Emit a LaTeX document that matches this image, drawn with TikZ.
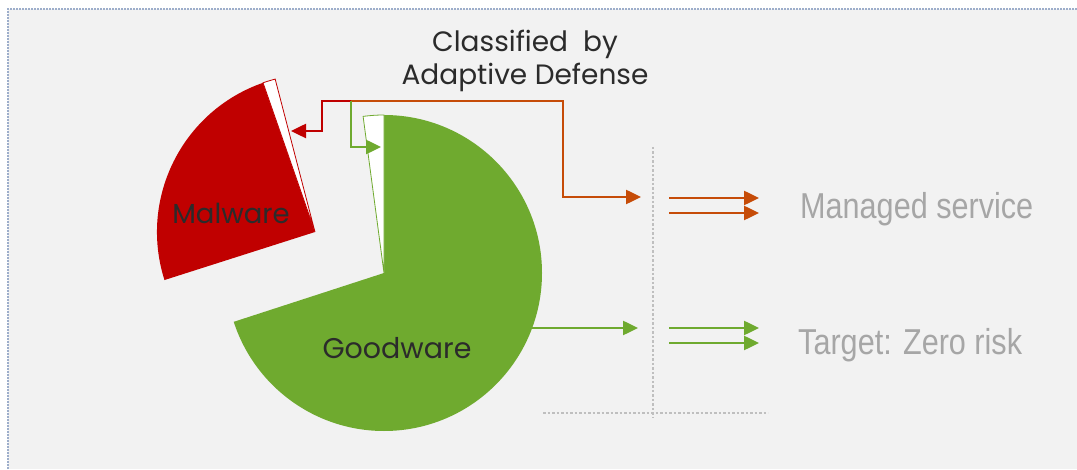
\documentclass[tikz,border=0pt]{standalone}
\usepackage{fontspec}
\setmainfont{Poppins}
\newfontfamily\narrowfont[FakeStretch=0.85]{Liberation Sans}
\usetikzlibrary{arrows.meta}
\definecolor{bg}{HTML}{F2F2F2}
\definecolor{frame}{HTML}{9DAECB}
\definecolor{grn}{HTML}{6FAA2F}
\definecolor{mal}{HTML}{C00000}
\definecolor{org}{HTML}{C64C08}
\definecolor{lgray}{HTML}{A6A6A6}
\definecolor{dgray}{HTML}{BFBFBF}
\definecolor{ink}{HTML}{2B2B2B}
\tikzset{
  conn/.style={line width=2.5pt, -{Triangle[length=15pt,width=14pt]}},
  sep/.style={dgray, line width=2.5pt, dash pattern=on 2.5pt off 2pt},
  outfont/.style={font=\narrowfont\fontsize{36}{40}\selectfont, text=lgray, inner sep=0pt},
}
\begin{document}
\begin{tikzpicture}[x=1pt,y=1pt]
\useasboundingbox (0,0) rectangle (1077,469);
\fill[white] (0,0) rectangle (1077,469);
\fill[bg] (8,0) rectangle (1077,460);
\draw[frame, line width=1.5pt, dash pattern=on 2pt off 1pt] (8,0) -- (8,460) -- (1077,460);

% pie
\coordinate (g) at (384,196);
\coordinate (r) at (315,237);
\fill[grn] (g) -- ++(90:158) arc[start angle=90, end angle=-162, radius=158] -- cycle;
\filldraw[fill=white, draw=grn, line width=0.8pt] (g) -- ++(90:158) arc[start angle=90, end angle=97.6, radius=158] -- cycle;
\fill[mal] (r) -- ++(109.2:158) arc[start angle=109.2, end angle=197.7, radius=158] -- cycle;
\filldraw[fill=white, draw=mal, line width=0.8pt] (r) -- ++(104.6:158) arc[start angle=104.6, end angle=109.2, radius=158] -- cycle;

\node[font=\fontsize{27.5}{30}\selectfont, text=ink] (malware) at (231,256) {Malware};
\node[font=\fontsize{28.5}{30}\selectfont, text=ink] (goodware) at (397,121) {Goodware};

% title
\node[font=\fontsize{28}{33}\selectfont, text=ink, align=center] (title) at (525,408) {Classified\ \ by\\Adaptive Defense};

% classification arrows
\coordinate (o) at (351,368);
\coordinate (rk) at (322,368);
\coordinate (rt) at (291,338);
\coordinate (ok) at (563,368);
\coordinate (ot) at (641,272);
\coordinate (gt) at (381,322);
\draw[conn, mal] (o) -- (rk) |- (rt);
\draw[conn, org] (o) -- (ok) |- (ot);
\draw[conn, grn] (o) |- (gt);

\coordinate (gs) at (532,141);
\coordinate (gpt) at (638,141);
\draw[conn, grn] (gs) -- (gpt);

% separators
\coordinate (vs) at (653,322);
\coordinate (ve) at (653,51);
\coordinate (hs) at (543,56);
\coordinate (he) at (768,56);
\draw[sep] (vs) -- (ve);
\draw[sep] (hs) -- (he);

% double arrows
\coordinate (oa1) at (669,271);
\coordinate (ob1) at (759,271);
\coordinate (oa2) at (669,256);
\coordinate (ob2) at (759,256);
\coordinate (ga1) at (669,141);
\coordinate (gb1) at (759,141);
\coordinate (ga2) at (669,126);
\coordinate (gb2) at (759,126);
\draw[conn, org] (oa1) -- (ob1);
\draw[conn, org] (oa2) -- (ob2);
\draw[conn, grn] (ga1) -- (gb1);
\draw[conn, grn] (ga2) -- (gb2);

\node[outfont, anchor=base west] (managed) at (800,250) {Managed service};
\node[outfont, anchor=base west] (target) at (798,114) {Target: Zero risk};
\end{tikzpicture}
\end{document}
